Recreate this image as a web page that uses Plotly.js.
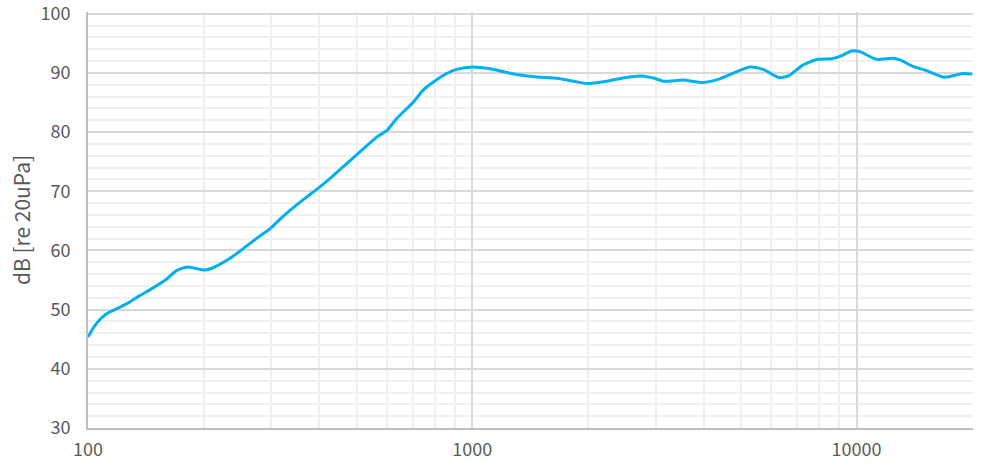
<!DOCTYPE html>
<html>
<head>
<meta charset="utf-8">
<script src="https://cdn.plot.ly/plotly-3.0.1.min.js"></script>
<style>html,body{margin:0;padding:0;background:#fff;}#chart{width:981px;height:463px;}</style>
</head>
<body>
<div id="chart"></div>
<script>
const freq = [100, 104, 108, 113, 120, 127, 135, 147, 159, 170, 181, 190, 200, 210, 232, 251, 278, 298, 316, 349, 386, 427, 472, 521, 565, 600, 636, 703, 745, 794, 858, 911, 1000, 1114, 1206, 1316, 1473, 1662, 1835, 1991, 2198, 2487, 2751, 2981, 3148, 3538, 3984, 4404, 4797, 5276, 5713, 6290, 6690, 7200, 7920, 8600, 9053, 9700, 10200, 11260, 12400, 12970, 14040, 15200, 16800, 17500, 18900, 20000];
const spl  = [45.4, 47.2, 48.5, 49.5, 50.3, 51.1, 52.2, 53.6, 55.0, 56.6, 57.2, 57.0, 56.7, 57.0, 58.5, 60.1, 62.3, 63.7, 65.3, 67.7, 69.9, 72.2, 74.7, 77.2, 79.2, 80.3, 82.3, 85.1, 87.1, 88.5, 89.9, 90.6, 91.0, 90.7, 90.2, 89.7, 89.3, 89.1, 88.6, 88.2, 88.5, 89.2, 89.5, 89.1, 88.6, 88.8, 88.4, 89.0, 90.0, 91.0, 90.6, 89.2, 89.6, 91.2, 92.3, 92.4, 92.8, 93.7, 93.6, 92.3, 92.5, 92.2, 91.1, 90.4, 89.3, 89.4, 89.9, 89.8];

const xTickVals = [100, 1000, 10000];
const xTickText = ['100', '1000', '10000'];
const xMinorVals = [200, 300, 400, 500, 600, 700, 800, 900, 2000, 3000, 4000, 5000, 6000, 7000, 8000, 9000, 20000];
const yTickVals = [30, 40, 50, 60, 70, 80, 90, 100];
const yTitle = 'dB [re 20uPa]';

const fontFam = '"Noto Sans CJK JP", "Noto Sans", sans-serif';

Plotly.newPlot('chart', [{
  x: freq, y: spl, type: 'scatter', mode: 'lines',
  line: {color: '#00b0f0', width: 3, shape: 'spline', smoothing: 0.6},
  hoverinfo: 'skip', cliponaxis: true
}], {
  width: 981, height: 463,
  margin: {l: 88, r: 8, t: 12, b: 35},
  paper_bgcolor: '#ffffff', plot_bgcolor: '#ffffff',
  showlegend: false,
  font: {family: fontFam, color: '#595959', size: 18},
  xaxis: {
    type: 'log', range: [2, Math.log10(20000) + 0.002],
    tickvals: xTickVals, ticktext: xTickText,
    ticks: 'outside', ticklen: 4, tickcolor: 'rgba(0,0,0,0)',
    showgrid: true, gridcolor: '#d9d9d9', gridwidth: 2,
    minor: {tickvals: xMinorVals, showgrid: true, gridcolor: '#f0f0f0', gridwidth: 2, ticks: ''},
    showline: true, linecolor: '#bfbfbf', linewidth: 2,
    zeroline: false, tickfont: {size: 18, color: '#595959'},
    ticklabeloverflow: 'allow'
  },
  yaxis: {
    range: [30, 100.3], tickvals: yTickVals,
    ticks: 'outside', ticklen: 12, tickcolor: 'rgba(0,0,0,0)',
    showgrid: true, gridcolor: '#d9d9d9', gridwidth: 2,
    minor: {dtick: 2, showgrid: true, gridcolor: '#f0f0f0', gridwidth: 2, ticks: ''},
    showline: true, linecolor: '#bfbfbf', linewidth: 2,
    zeroline: false, tickfont: {size: 18, color: '#595959'},
    ticklabeloverflow: 'allow',
    title: {text: yTitle, standoff: 4, font: {size: 21, color: '#595959'}}
  }
}, {staticPlot: true});
</script>
</body>
</html>
